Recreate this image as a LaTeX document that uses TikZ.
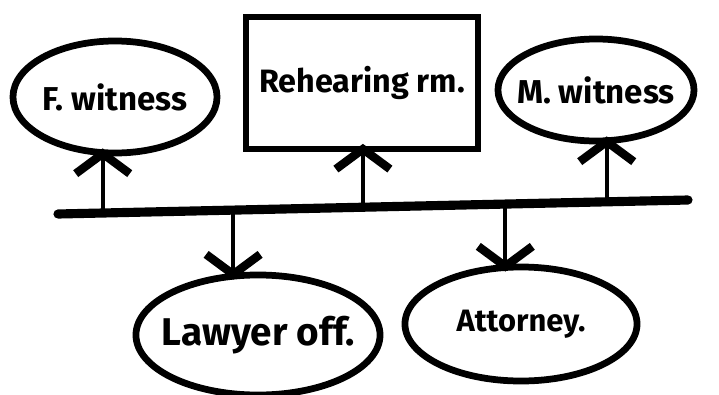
\documentclass[tikz,border=0pt]{standalone}
\usepackage{fontspec}
\setsansfont{Fira Sans}
\usetikzlibrary{arrows.meta,shapes.geometric,calc,positioning}
\tikzset{font=\sffamily\bfseries\fontsize{22}{24}\selectfont}
\tikzset{
  place/.style={ellipse, draw, line width=4.8pt, inner sep=0pt},
  roombox/.style={rectangle, draw, line width=4pt, inner sep=0pt,
    minimum width=5.8cm, minimum height=3.3cm},
  bus/.style={line width=6.5pt, line cap=round},
  link/.style={line width=3pt, shorten >=-2mm,
    -{Straight Barb[length=5mm,width=13.5mm,line width=6pt]}}
}
\begin{document}
\begin{tikzpicture}[x=0.025cm, y=-0.025cm]
        \useasboundingbox (0,0) rectangle (719,395);
        % the five rooms
        \node[place, minimum width=5.1cm, minimum height=2.8cm,
          label={[font=\sffamily\bfseries\fontsize{23.5}{25}\selectfont]center:F. witness}] (fwit) at (115,97) {};
        \node[roombox, font=\sffamily\bfseries\fontsize{23}{25}\selectfont] (room) at (362,83) {Rehearing rm.};
        \node[place, minimum width=4.9cm, minimum height=2.55cm,
          label={[font=\sffamily\bfseries\fontsize{23.5}{25}\selectfont]center:M. witness}] (mwit) at (596,90) {};
        \node[place, minimum width=6.1cm, minimum height=3cm,
          label={[font=\sffamily\bfseries\fontsize{27.5}{29}\selectfont]center:Lawyer off.}] (lawyer) at (258,335) {};
        \node[place, minimum width=5.8cm, minimum height=2.85cm,
          label={[font=\sffamily\bfseries\fontsize{22}{24}\selectfont]center:Attorney.}] (attorney) at (521,324) {};
        % corridor
        \coordinate (busL) at (58,214);
        \coordinate (busR) at (688,200);
        \draw[bus] (busL) -- (busR);
        \coordinate (b1) at ($(busL)!0.071!(busR)$);
        \coordinate (b2) at ($(busL)!0.278!(busR)$);
        \coordinate (b3) at ($(busL)!0.484!(busR)$);
        \coordinate (b4) at ($(busL)!0.710!(busR)$);
        \coordinate (b5) at ($(busL)!0.871!(busR)$);
        % links
        \draw[link] (b1) -- (b1 |- fwit.south);
        \draw[link] (b3) -- (b3 |- room.south);
        \draw[link] (b5) -- (b5 |- mwit.south);
        \draw[link] (b2) -- (b2 |- lawyer.north);
        \draw[link] (b4) -- (b4 |- attorney.north);
      \end{tikzpicture}
\end{document}
